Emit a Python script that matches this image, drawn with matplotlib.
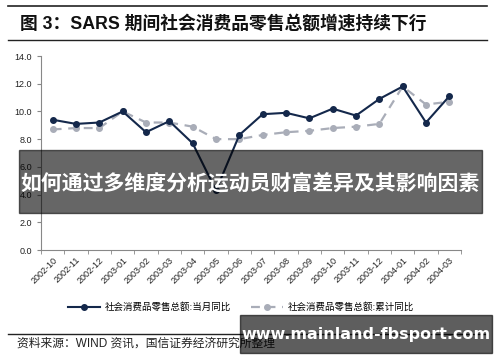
import numpy as np
import matplotlib
matplotlib.use('Agg')
import matplotlib.pyplot as plt
from matplotlib.patches import Rectangle
from matplotlib.lines import Line2D

plt.rcParams['font.family'] = ['Liberation Sans', 'Noto Sans CJK SC', 'DejaVu Sans']

# data
months = ['2002-10', '2002-11', '2002-12', '2003-01', '2003-02', '2003-03',
          '2003-04', '2003-05', '2003-06', '2003-07', '2003-08', '2003-09',
          '2003-10', '2003-11', '2003-12', '2004-01', '2004-02', '2004-03']
monthly_yoy = [9.4, 9.1, 9.2, 10.0, 8.5, 9.3, 7.7, 4.3, 8.3, 9.8, 9.9, 9.5,
               10.2, 9.7, 10.9, 11.8, 9.2, 11.1]
cumul_yoy = [8.7, 8.8, 8.8, 10.0, 9.2, 9.2, 8.9, 8.0, 8.0, 8.3, 8.5, 8.6,
             8.8, 8.9, 9.1, 11.8, 10.5, 10.7]
series_names = ['社会消费品零售总额:当月同比', '社会消费品零售总额:累计同比']

W, H = 500, 362
fig = plt.figure(figsize=(W / 100, H / 100), dpi=100)
ax = fig.add_axes([41 / W, 1 - 250 / H, 420 / W, 194 / H])

x = np.arange(len(months))
ax.plot(x, cumul_yoy, color='#a9adb8', lw=1.6, ls=(0, (4, 3)), marker='o',
        ms=4, label=series_names[1], zorder=2)
ax.plot(x, monthly_yoy, color='#14284b', lw=1.5, marker='o', ms=4,
        label=series_names[0], zorder=3)

ax.set_xlim(-0.5, len(months) - 0.5)
ax.set_ylim(0, 14)
ax.set_yticks(np.arange(0, 15, 2))
ax.set_yticklabels(['%.1f' % v for v in np.arange(0, 15, 2)])
ax.set_xticks(x)
ax.set_xticklabels(months, rotation=45, ha='right', rotation_mode='anchor')
ax.set_xticks(np.arange(len(months) + 1) - 0.5, minor=True)
ax.tick_params(axis='x', which='major', length=0, labelsize=6.5, colors='#222222', pad=4)
ax.tick_params(axis='x', which='minor', length=3, color='#888888')
ax.tick_params(axis='y', length=3, color='#888888', labelsize=6.5, labelcolor='#222222')
for s in ['top', 'right']:
    ax.spines[s].set_visible(False)
for s in ['left', 'bottom']:
    ax.spines[s].set_color('#888888')
    ax.spines[s].set_linewidth(0.8)

h, l = ax.get_legend_handles_labels()
fig.legend(h[::-1], l[::-1], loc='center', bbox_to_anchor=(0.482, 1 - 307 / H),
           ncol=2, frameon=False, handlelength=3.3, handletextpad=0.5,
           columnspacing=2.2, prop={'family': ['Noto Sans CJK SC'], 'size': 6.8})

# frame lines and title
fig.add_artist(Line2D([8 / W, 487 / W], [1 - 6 / H, 1 - 6 / H], color='#222222', lw=1.2))
fig.add_artist(Line2D([8 / W, 487 / W], [1 - 40 / H, 1 - 40 / H], color='#222222', lw=1.0))
fig.add_artist(Line2D([8 / W, 487 / W], [1 - 334 / H, 1 - 334 / H], color='#222222', lw=1.0))
fig.text(20 / W, 1 - 24 / H, '图 3：SARS 期间社会消费品零售总额增速持续下行',
         fontsize=12.8, fontweight='bold', va='center', color='#111111')
fig.text(17 / W, 1 - 344 / H, '资料来源：WIND 资讯，国信证券经济研究所整理',
         fontsize=8.5, va='center', color='#222222')

# overlay banner (semi-transparent)
fig.add_artist(Rectangle((19 / W, 1 - 213 / H), 463 / W, 63 / H,
                         color='black', alpha=0.6, zorder=10))
fig.text(250 / W, 1 - 184 / H, '如何通过多维度分析运动员财富差异及其影响因素',
         fontsize=15, fontweight='bold', color='white', ha='center', va='center',
         zorder=11)

# watermark
fig.add_artist(Rectangle((240 / W, 1 - 353 / H), 252 / W, 38 / H,
                         color='black', alpha=0.63, zorder=10))
fig.text(366 / W, 1 - 334 / H, 'www.mainland-fbsport.com', fontsize=11.5,
         fontweight='bold', color='white', ha='center', va='center',
         family=['DejaVu Sans'], zorder=11)

fig.savefig('out.png', dpi=100)
